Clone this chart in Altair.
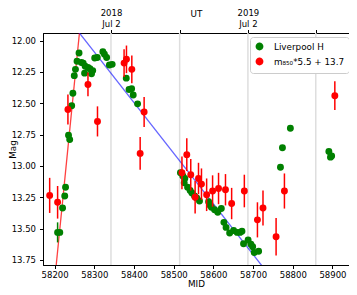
import altair as alt
import pandas as pd

# ---------------- data ----------------
series = ["Liverpool H", "m\u2088\u2085\u2080*5.5 + 13.7"]
colors = ["#008000", "#ff0000"]

lh_mjd = [58207.5, 58213, 58220, 58225.5, 58227.5, 58235, 58238, 58243, 58246, 58249.5,
          58252.5, 58256.5, 58261.5, 58267.5, 58272, 58277, 58275.5, 58284, 58289, 58293,
          58296, 58301, 58307.5, 58321.5, 58325.5, 58331, 58338, 58345, 58380.5, 58387.5,
          58394, 58398, 58409, 58517, 58523, 58528, 58526.5, 58535, 58541.5, 58546,
          58552.5, 58558, 58565, 58588, 58590, 58595, 58603, 58611, 58620, 58626.5,
          58632, 58641, 58651, 58660, 58667, 58672, 58676, 58687.5, 58694.5, 58699,
          58703, 58714, 58769, 58774, 58794, 58891, 58895, 58898]
lh_mag = [13.53, 13.53, 13.335, 13.24, 13.17, 12.755, 12.79, 12.52, 12.42, 12.28,
          12.23, 12.165, 12.10, 12.175, 12.18, 12.205, 12.26, 12.215, 12.225, 12.265,
          12.24, 12.14, 12.135, 12.09, 12.11, 12.135, 12.195, 12.19, 12.30, 12.39,
          12.385, 12.435, 12.505, 13.055, 13.08, 13.10, 13.135, 13.17, 13.195, 13.215,
          13.24, 13.255, 13.28, 13.285, 13.31, 13.33, 13.35, 13.37, 13.34, 13.45,
          13.49, 13.535, 13.515, 13.53, 13.53, 13.52, 13.62, 13.59, 13.625, 13.645,
          13.69, 13.68, 13.01, 12.855, 12.70, 12.885, 12.93, 12.92]
lh_err = [0.08] + [0.02] * (len(lh_mag) - 1)

m850_mjd = [58187.5, 58207.5, 58233.5, 58284, 58308, 58375, 58381, 58394.5, 58415.5, 58425.5,
            58520.8, 58533, 58543, 58554, 58562.5, 58570, 58583, 58598, 58613, 58630.5,
            58646, 58678, 58711, 58725, 58758, 58779, 58906]
m850_mag = [13.235, 13.29, 12.55, 12.35, 12.645, 12.18, 12.15, 12.23, 12.90, 12.57,
            13.055, 12.91, 13.07, 13.25, 13.10, 13.145, 13.23, 13.20, 13.18, 13.19,
            13.30, 13.20, 13.43, 13.335, 13.565, 13.20, 12.44]
m850_err = [0.14, 0.13, 0.12, 0.095, 0.12, 0.11, 0.11, 0.11, 0.13, 0.12,
            0.13, 0.13, 0.125, 0.13, 0.125, 0.125, 0.13, 0.125, 0.125, 0.125,
            0.125, 0.13, 0.14, 0.14, 0.15, 0.14, 0.115]

rise_mjd = [58200, 58266]
rise_mag = [13.916, 11.829]
decay_mjd = [58255, 58730]
decay_mag = [11.91, 13.827]

x_ticks = [58200, 58300, 58400, 58500, 58600, 58700, 58800, 58900]
y_ticks = [12.00, 12.25, 12.50, 12.75, 13.00, 13.25, 13.50, 13.75]
ut_ticks = [58342, 58515, 58687, 58858]
ut_labels = [["2018", "Jul 2"], "", ["2019", "Jul 2"], ""]

x_domain = [58170.7, 58941.7]
y_domain = [11.94, 13.79]

# ---------------- tables ----------------
lh = pd.DataFrame({"mjd": lh_mjd, "mag": lh_mag, "err": lh_err})
lh["lo"] = lh["mag"] - lh["err"]
lh["hi"] = lh["mag"] + lh["err"]
lh["series"] = series[0]
rd = pd.DataFrame({"mjd": m850_mjd, "mag": m850_mag, "err": m850_err})
rd["lo"] = rd["mag"] - rd["err"]
rd["hi"] = rd["mag"] + rd["err"]
rd["series"] = series[1]
rise = pd.DataFrame({"mjd": rise_mjd, "mag": rise_mag})
decay = pd.DataFrame({"mjd": decay_mjd, "mag": decay_mag})
ut = pd.DataFrame({"mjd": ut_ticks})

FONT = "DejaVu Sans"
W, H = 306, 232

xs = alt.Scale(domain=x_domain, nice=False, zero=False)
ys = alt.Scale(domain=y_domain, reverse=True, nice=False, zero=False)
cs = alt.Scale(domain=series, range=colors)

x_axis = alt.Axis(values=x_ticks, format="d", labelPadding=2, labelOverlap=False,
                  titleY=21, titleBaseline="alphabetic")
y_axis = alt.Axis(values=y_ticks, format=".2f", labelPadding=4, labelOverlap=False,
                  titleX=-31, titleY=H / 2, titleAlign="center",
                  titleBaseline="middle", titleAngle=270)

def xenc(field="mjd"):
    return alt.X(field + ":Q", scale=xs, title="MJD", axis=x_axis)

def yenc(field="mag"):
    return alt.Y(field + ":Q", scale=ys, title="Mag", axis=y_axis)

def lab(v):
    if isinstance(v, list):
        return "[" + ",".join("'%s'" % t for t in v) + "]"
    return "'%s'" % v

expr = "''"
for v, l in reversed(list(zip(ut_ticks, ut_labels))):
    expr = "datum.value == %s ? %s : (%s)" % (v, lab(l), expr)

grid = alt.Chart(ut).mark_rule(color="#dedede", strokeWidth=1.5).encode(
    x=alt.X("mjd:Q", scale=xs, title="UT",
            axis=alt.Axis(orient="top", values=ut_ticks, labelExpr=expr,
                          labelLineHeight=10.5, labelPadding=12, labelOverlap=False,
                          titleY=-20, titleBaseline="middle"))
)

rise_line = alt.Chart(rise).mark_line(color="#ff0000", opacity=0.75, strokeWidth=1.3,
                                      clip=True).encode(x=xenc(), y=yenc())
decay_line = alt.Chart(decay).mark_line(color="#0000ff", opacity=0.6, strokeWidth=1.3,
                                        clip=True).encode(x=xenc(), y=yenc())

leg = alt.Legend(title=None, orient="none", legendX=207, legendY=4,
                 fillColor="white", strokeColor="#cccccc", cornerRadius=3,
                 padding=4, rowPadding=0, labelOffset=9,
                 labelFont=FONT, labelFontSize=8.8, labelColor="black",
                 symbolType="M0,-0.9L0,0.9M-0.72,0A0.72,0.72 0 1,0 0.72,0A0.72,0.72 0 1,0 -0.72,0Z",
                 symbolSize=80, symbolStrokeWidth=1.4)

def bars(df, col):
    return alt.Chart(df).mark_rule(color=col, strokeWidth=1.5, clip=True).encode(
        x=xenc(), y=yenc("lo"), y2="hi:Q")

def pts(df):
    return alt.Chart(df).mark_circle(size=48, opacity=1, strokeWidth=0, clip=True).encode(
        x=xenc(), y=yenc(),
        fill=alt.Fill("series:N", scale=cs, legend=leg),
        stroke=alt.Stroke("series:N", scale=cs, legend=leg))

main = alt.layer(rise_line, decay_line, bars(lh, colors[0]), pts(lh),
                 bars(rd, colors[1]), pts(rd))

chart = alt.layer(grid, main).resolve_scale(x="independent").properties(
    width=W, height=H,
    autosize=alt.AutoSizeParams(type="none"),
    padding={"left": 35, "top": 25, "right": 0, "bottom": 22},
).configure_axis(
    grid=False, labelFont=FONT, titleFont=FONT, labelFontSize=8.5, titleFontSize=8.8,
    labelColor="black", titleColor="black", titleFontWeight="normal",
    domainColor="black", tickColor="black", tickSize=3.5, domainWidth=1,
).configure_view(stroke="black", strokeWidth=1)

chart.save("out.html", embed_options={"renderer": "svg", "actions": False})
